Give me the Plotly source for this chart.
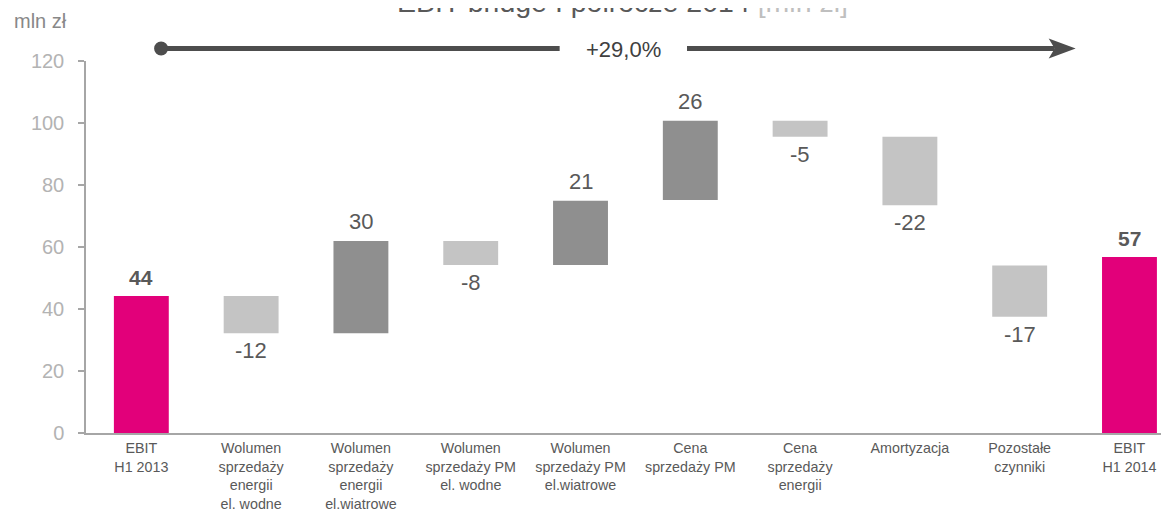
import plotly.graph_objects as go

categories = [
    "EBIT<br>H1 2013",
    "Wolumen<br>sprzedaży<br>energii<br>el. wodne",
    "Wolumen<br>sprzedaży<br>energii<br>el.wiatrowe",
    "Wolumen<br>sprzedaży PM<br>el. wodne",
    "Wolumen<br>sprzedaży PM<br>el.wiatrowe",
    "Cena<br>sprzedaży PM",
    "Cena<br>sprzedaży<br>energii",
    "Amortyzacja",
    "Pozostałe<br>czynniki",
    "EBIT<br>H1 2014",
]
value_labels = ["44", "-12", "30", "-8", "21", "26", "-5", "-22", "-17", "57"]
bar_start = [0, 44.2, 32.2, 61.9, 54.2, 75.2, 100.7, 95.6, 54.0, 0]
bar_end = [44.2, 32.2, 61.9, 54.2, 74.9, 100.7, 95.6, 73.5, 37.5, 56.8]
bar_kind = ["total", "down", "up", "down", "up", "up", "down", "down", "down", "total"]
y_ticks = [0, 20, 40, 60, 80, 100, 120]
change_label = "+29,0%"

colors = {"total": "#E2007A", "up": "#8F8F8F", "down": "#C4C4C4"}
LABEL = "#595959"
AXIS = "#A6A6A6"
ARROW = "#4D4D4D"
FONT = "Liberation Sans, Arial, sans-serif"

fig = go.Figure()
fig.add_trace(go.Bar(
    x=categories,
    base=bar_start,
    y=[e - s for s, e in zip(bar_start, bar_end)],
    marker=dict(color=[colors[k] for k in bar_kind], line=dict(width=0)),
    width=0.5,
    hoverinfo="skip",
))

# value labels
for i, (lab, s, e, k) in enumerate(zip(value_labels, bar_start, bar_end, bar_kind)):
    up = e >= s
    bold = k == "total"
    fig.add_annotation(
        x=categories[i], y=max(s, e) if up else min(s, e),
        xref="x", yref="y",
        text=f"<b>{lab}</b>" if bold else lab,
        showarrow=False,
        yanchor="bottom" if up else "top",
        yshift=5 if up else -3,
        font=dict(family=FONT, size=21 if bold else 22, color=LABEL),
    )

# title (partially above the page edge)
fig.add_annotation(
    x=0.4954, y=1.110, xref="paper", yref="paper",
    text="EBIT bridge I półrocze 2014 <span style='color:#BFBFBF'>[mln zł]</span>",
    showarrow=False, xanchor="center", yanchor="bottom",
    font=dict(family=FONT, size=28.5, color=LABEL),
)
# unit label
fig.add_annotation(
    x=-0.0157, y=1.1075, xref="paper", yref="paper",
    text="mln zł", showarrow=False, xanchor="right", yanchor="middle",
    font=dict(family=FONT, size=20, color="#888888"),
)

# growth arrow
ay = 1.0336
fig.add_shape(type="line", xref="x", yref="paper", x0=0.18, x1=3.81, y0=ay, y1=ay,
              line=dict(color=ARROW, width=5))
fig.add_shape(type="line", xref="x", yref="paper", x0=4.97, x1=8.32, y0=ay, y1=ay,
              line=dict(color=ARROW, width=5))
fig.add_shape(type="circle", xref="x", yref="paper", xsizemode="pixel", ysizemode="pixel",
              xanchor=0.18, yanchor=ay, x0=-7, x1=7, y0=-7, y1=7,
              fillcolor=ARROW, line=dict(width=0))
fig.add_shape(type="path", xref="x", yref="paper", xsizemode="pixel", ysizemode="pixel",
              xanchor=8.51, yanchor=ay, path="M 0 0 L -27 10 L -21 0 L -27 -10 Z",
              fillcolor=ARROW, line=dict(width=0))
fig.add_annotation(
    x=4.39, y=1.0296, xref="x", yref="paper", text=change_label, showarrow=False,
    xanchor="center", yanchor="middle",
    font=dict(family=FONT, size=22, color="#404040"),
)

# the page body adds an 8px offset, so the figure is sized to fill the rest
fig.update_layout(
    template="none",
    width=1161, height=505,
    margin=dict(l=78, r=0, t=53, b=80, autoexpand=False),
    paper_bgcolor="white", plot_bgcolor="white",
    showlegend=False,
    bargap=0.5,
    xaxis=dict(
        type="category", range=[-0.504, 9.36], automargin=False,
        showline=True, linecolor=AXIS, linewidth=1.5,
        showgrid=False, ticks="", zeroline=False,
        tickfont=dict(family=FONT, size=14.3, color=LABEL),
        ticklabelstandoff=1,
    ),
    yaxis=dict(
        range=[0, 120], tickvals=y_ticks, automargin=False,
        showline=True, linecolor=AXIS, linewidth=1.5,
        ticks="outside", ticklen=6, tickcolor=AXIS, tickwidth=1.5,
        showgrid=False, zeroline=False,
        tickfont=dict(family=FONT, size=20, color="#B3B3B3"),
        ticklabelstandoff=10,
    ),
)

fig.write_html("out.html")
